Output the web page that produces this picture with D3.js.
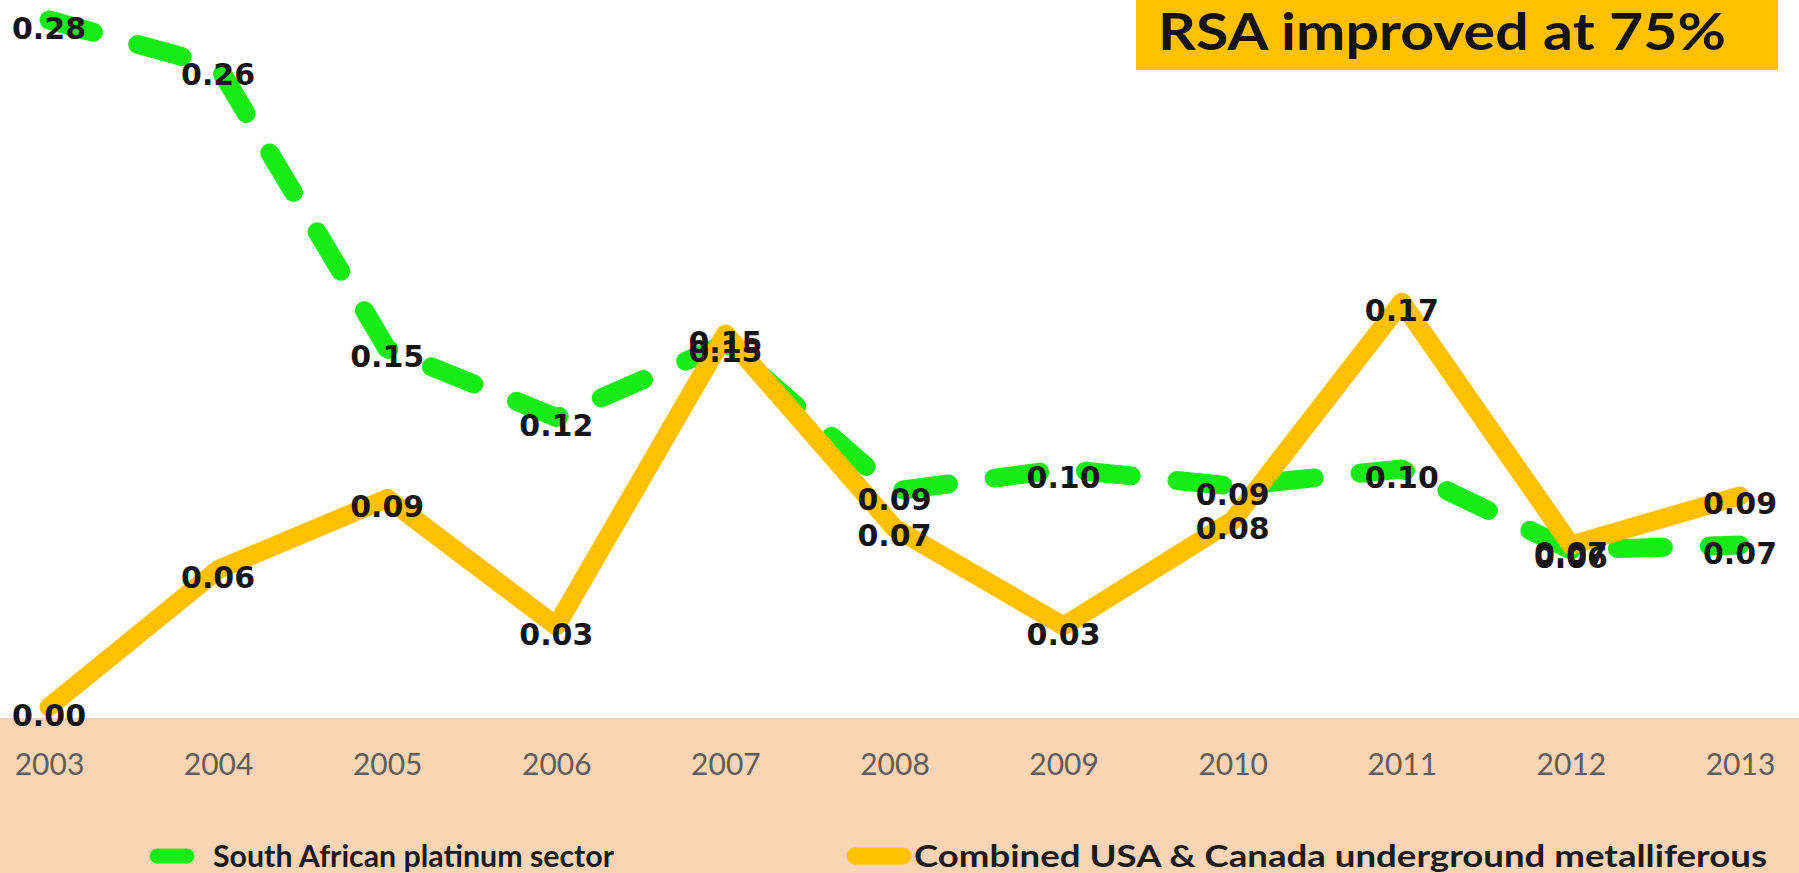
<!DOCTYPE html>
<html>
<head>
<meta charset="utf-8">
<script src="https://cdn.jsdelivr.net/npm/d3@7"></script>
<style>
  body { margin: 0; background: #fff; }
  #chart { width: 1799px; height: 873px; }
</style>
</head>
<body>
<div id="chart"></div>
<script>
// data
var years = [2003, 2004, 2005, 2006, 2007, 2008, 2009, 2010, 2011, 2012, 2013];
var rsaValues = [0.28, 0.261, 0.146, 0.118, 0.148, 0.088, 0.097, 0.09, 0.097, 0.064, 0.066];
var usaCanValues = [0.0, 0.056, 0.085, 0.033, 0.152, 0.073, 0.033, 0.076, 0.165, 0.066, 0.086];
var seriesNames = ["South African platinum sector", "Combined USA & Canada underground metalliferous"];
var titleText = "RSA improved at 75%";

var green = "#14ec14";
var gold = "#ffc000";
var fmt = d3.format(".2f");

var width = 1799, height = 873;

var svg = d3.select("#chart").append("svg")
    .attr("width", width).attr("height", height);

var x = d3.scalePoint().domain(years).range([49, 1740]);
var y = d3.scaleLinear().domain([0, 0.28]).range([707, 20]);

// peach band under the plot
svg.append("rect")
    .attr("x", 0).attr("y", 718)
    .attr("width", width).attr("height", height - 718)
    .attr("fill", "#f9d4b5");

// x axis labels, no line or ticks
var xAxis = svg.append("g")
    .attr("transform", "translate(0,751)")
    .call(d3.axisBottom(x).tickSize(0).tickFormat(d3.format("d")));
xAxis.select(".domain").remove();
xAxis.selectAll("text")
    .attr("dy", "0.71em")
    .style("font-family", "Lato, 'Open Sans', sans-serif")
    .style("font-size", "30px")
    .attr("fill", "#625c5a");

var line = d3.line()
    .x(function (d) { return x(d.year); })
    .y(function (d) { return y(d.value); });

var rsa = years.map(function (yr, i) { return {year: yr, value: rsaValues[i]}; });
var usa = years.map(function (yr, i) { return {year: yr, value: usaCanValues[i]}; });

svg.append("path")
    .datum(rsa)
    .attr("d", line)
    .attr("fill", "none")
    .attr("stroke", green)
    .attr("stroke-width", 19)
    .attr("stroke-linecap", "round")
    .attr("stroke-linejoin", "round")
    .attr("stroke-dasharray", "46,46");

svg.append("path")
    .datum(usa)
    .attr("d", line)
    .attr("fill", "none")
    .attr("stroke", gold)
    .attr("stroke-width", 19)
    .attr("stroke-linecap", "round")
    .attr("stroke-linejoin", "round");

// data labels, centered on the points
function labels(data, cls) {
  svg.selectAll("." + cls)
      .data(data)
      .enter()
      .append("text")
      .attr("class", cls)
      .attr("x", function (d) { return x(d.year); })
      .attr("y", function (d) { return y(d.value) + 8; })
      .attr("text-anchor", "middle")
      .attr("dominant-baseline", "central")
      .style("font-family", "'DejaVu Sans', sans-serif")
      .style("font-weight", "bold")
      .style("font-size", "30px")
      .attr("fill", "#141414")
      .text(function (d) { return fmt(d.value); });
}
labels(rsa, "lab-rsa");
labels(usa, "lab-usa");

// title box
svg.append("rect")
    .attr("x", 1136).attr("y", 0)
    .attr("width", 642).attr("height", 70)
    .attr("fill", gold);
svg.append("text")
    .attr("x", 1158).attr("y", 50)
    .attr("textLength", 568)
    .attr("lengthAdjust", "spacingAndGlyphs")
    .style("font-family", "Lato, sans-serif")
    .style("font-weight", "bold")
    .style("font-size", "51px")
    .attr("fill", "#111")
    .text(titleText);

// legend
var legY = 856;
svg.append("line")
    .attr("x1", 157).attr("x2", 207)
    .attr("y1", legY).attr("y2", legY)
    .attr("stroke", green)
    .attr("stroke-width", 15)
    .attr("stroke-linecap", "round")
    .attr("stroke-dasharray", "30,20");
svg.append("text")
    .attr("x", 213).attr("y", legY)
    .attr("dy", "0.36em")
    .attr("textLength", 401)
    .attr("lengthAdjust", "spacingAndGlyphs")
    .style("font-family", "Lato, sans-serif")
    .style("font-weight", "bold")
    .style("font-size", "30px")
    .attr("fill", "#1a1a1a")
    .text(seriesNames[0]);

svg.append("line")
    .attr("x1", 855).attr("x2", 903)
    .attr("y1", legY).attr("y2", legY)
    .attr("stroke", gold)
    .attr("stroke-width", 17)
    .attr("stroke-linecap", "round");
svg.append("text")
    .attr("x", 914).attr("y", legY)
    .attr("dy", "0.36em")
    .attr("textLength", 853)
    .attr("lengthAdjust", "spacingAndGlyphs")
    .style("font-family", "Lato, sans-serif")
    .style("font-weight", "bold")
    .style("font-size", "30px")
    .attr("fill", "#1a1a1a")
    .text(seriesNames[1]);
</script>
</body>
</html>
